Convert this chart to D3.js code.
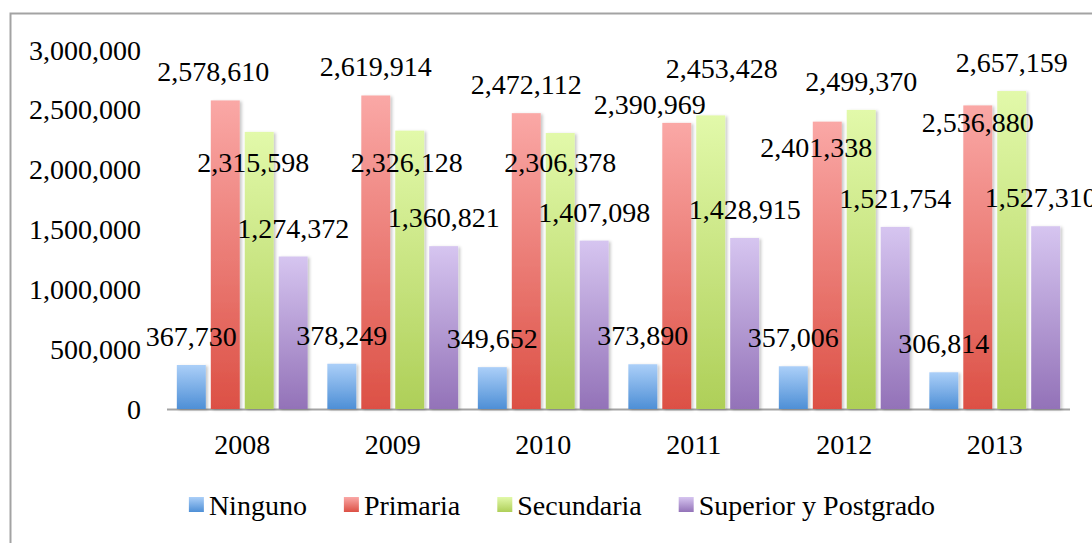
<!DOCTYPE html>
<html>
<head>
<meta charset="utf-8">
<script src="https://cdn.jsdelivr.net/npm/d3@7"></script>
<style>
  html, body { margin: 0; padding: 0; background: #fff; overflow: hidden; }
  text { font-family: "Liberation Serif", "DejaVu Serif", serif; fill: #000; }
</style>
</head>
<body>
<div id="chart"></div>
<script>
// Data
const years = ['2008', '2009', '2010', '2011', '2012', '2013'];
const series = ['Ninguno', 'Primaria', 'Secundaria', 'Superior y Postgrado'];
const ninguno = [367730, 378249, 349652, 373890, 357006, 306814];
const primaria = [2578610, 2619914, 2472112, 2390969, 2401338, 2536880];
const secundaria = [2315598, 2326128, 2306378, 2453428, 2499370, 2657159];
const superior = [1274372, 1360821, 1407098, 1428915, 1521754, 1527310];
const yTicks = [0, 500000, 1000000, 1500000, 2000000, 2500000, 3000000];

// gradient stops: light top, darker bottom
const colours = {
  'Ninguno': ['#abcff8', '#4e8fd6'],
  'Primaria': ['#faa8a6', '#dc5045'],
  'Secundaria': ['#e2f9aa', '#aecf58'],
  'Superior y Postgrado': ['#d6c5f0', '#9372b8']
};

// label nudges where the original chart moved colliding labels
const labelShift = {
  'Primaria-2008': [-12, 0],
  'Secundaria-2008': [-6, 59],
  'Secundaria-2009': [-3, 60],
  'Secundaria-2010': [0, 58],
  'Primaria-2011': [-27, 10],
  'Secundaria-2011': [11, -18],
  'Primaria-2012': [-11, 54],
  'Primaria-2013': [0, 46],
  'Superior y Postgrado-2013': [-5, 0]
};

const values = [ninguno, primaria, secundaria, superior];
const data = [];
years.forEach((year, i) => {
  series.forEach((s, j) => data.push({ year, series: s, value: values[j][i] }));
});

const width = 1092, height = 543;
const fontSize = 28;
const fmt = d3.format(',');

const svg = d3.select('#chart').append('svg')
  .attr('width', width)
  .attr('height', height);

const defs = svg.append('defs');

series.forEach((s, j) => {
  const grad = defs.append('linearGradient')
    .attr('id', 'grad' + j)
    .attr('x1', 0).attr('y1', 0).attr('x2', 0).attr('y2', 1);
  grad.append('stop').attr('offset', '0%').attr('stop-color', colours[s][0]);
  grad.append('stop').attr('offset', '100%').attr('stop-color', colours[s][1]);
});

defs.append('filter')
  .attr('id', 'shadow')
  .attr('x', '-20%').attr('y', '-5%').attr('width', '150%').attr('height', '115%')
  .append('feDropShadow')
  .attr('dx', 2).attr('dy', 1)
  .attr('stdDeviation', 1.6)
  .attr('flood-color', '#000')
  .attr('flood-opacity', 0.22);

// Chart frame (right and bottom edges fall outside the picture)
svg.append('rect')
  .attr('x', 10.5).attr('y', 13.5)
  .attr('width', 1100).attr('height', 560)
  .attr('fill', 'none')
  .attr('stroke', '#a3a3a3')
  .attr('stroke-width', 2);

const x = d3.scaleBand().domain(years).range([167, 1070]);
const xs = d3.scaleBand().domain(series).range([0, x.bandwidth()])
  .paddingInner(0.147).paddingOuter(0.29);
const y = d3.scaleLinear().domain([0, 3000000]).range([409, 50]);

// Y tick labels (no gridlines)
svg.append('g')
  .selectAll('text')
  .data(yTicks)
  .join('text')
  .attr('x', 141)
  .attr('y', d => y(d) + 9.5)
  .attr('text-anchor', 'end')
  .style('font-size', fontSize + 'px')
  .text(d => fmt(d));

// X axis line
svg.append('line')
  .attr('x1', x.range()[0]).attr('x2', x.range()[1])
  .attr('y1', y(0) + 0.5).attr('y2', y(0) + 0.5)
  .attr('stroke', '#a3a3a3')
  .attr('stroke-width', 2);

// Bars
svg.append('g')
  .selectAll('rect')
  .data(data)
  .join('rect')
  .attr('x', d => x(d.year) + xs(d.series))
  .attr('y', d => y(d.value))
  .attr('width', xs.bandwidth())
  .attr('height', d => y(0) - y(d.value))
  .attr('fill', d => `url(#grad${series.indexOf(d.series)})`)
  .attr('filter', 'url(#shadow)');

// Data labels
svg.append('g')
  .selectAll('text')
  .data(data)
  .join('text')
  .attr('x', d => {
    const s = labelShift[d.series + '-' + d.year] || [0, 0];
    return x(d.year) + xs(d.series) + xs.bandwidth() / 2 + s[0];
  })
  .attr('y', d => {
    const s = labelShift[d.series + '-' + d.year] || [0, 0];
    return y(d.value) - 19 + s[1];
  })
  .attr('text-anchor', 'middle')
  .style('font-size', fontSize + 'px')
  .text(d => fmt(d.value));

// X category labels
svg.append('g')
  .selectAll('text')
  .data(years)
  .join('text')
  .attr('x', d => x(d) + x.bandwidth() / 2)
  .attr('y', 454)
  .attr('text-anchor', 'middle')
  .style('font-size', fontSize + 'px')
  .text(d => d);

// Legend, laid out from measured text widths and centred
const legend = svg.append('g');
const items = legend.selectAll('g')
  .data(series)
  .join('g');

items.append('rect')
  .attr('width', 15).attr('height', 15)
  .attr('y', 497)
  .attr('fill', (d, j) => `url(#grad${j})`);

items.append('text')
  .attr('x', 20)
  .attr('y', 515)
  .style('font-size', fontSize + 'px')
  .text(d => d);

let cursor = 0;
const offsets = [];
items.each(function () {
  offsets.push(cursor);
  const w = d3.select(this).select('text').node().getComputedTextLength();
  cursor += 20 + w + 37;
});
const total = cursor - 37;
const start = 562 - total / 2;
items.attr('transform', (d, j) => `translate(${start + offsets[j]},0)`);
</script>
</body>
</html>
